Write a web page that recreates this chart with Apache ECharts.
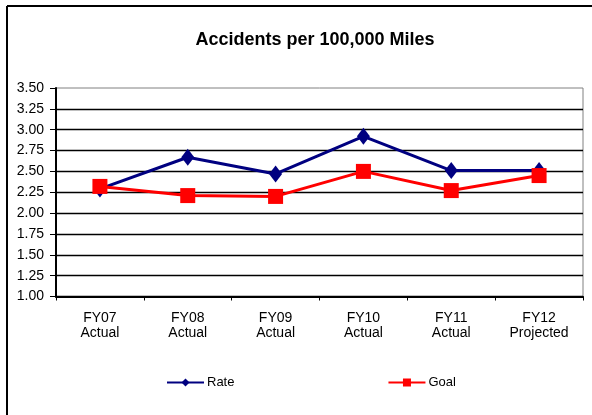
<!DOCTYPE html>
<html>
<head>
<meta charset="utf-8">
<script src="https://cdn.jsdelivr.net/npm/echarts@6/dist/echarts.min.js"></script>
<style>
html,body{margin:0;padding:0;background:#fff;}
#main{width:592px;height:415px;}
</style>
</head>
<body>
<div id="main"></div>
<script>
const categories = ['FY07\nActual', 'FY08\nActual', 'FY09\nActual', 'FY10\nActual', 'FY11\nActual', 'FY12\nProjected'];
const rateValues = [2.29, 2.67, 2.47, 2.92, 2.51, 2.51];
const goalValues = [2.32, 2.21, 2.20, 2.50, 2.27, 2.45];
const yTicks = { min: 1.0, max: 3.5, interval: 0.25 };

const FONT = '"Liberation Sans", Arial, sans-serif';
const chart = echarts.init(document.getElementById('main'), null, { renderer: 'canvas' });

chart.setOption({
  animation: false,
  backgroundColor: '#fff',
  title: {
    text: 'Accidents per 100,000 Miles',
    left: 310,
    top: 26,
    textAlign: 'center',
    textStyle: { fontFamily: FONT, fontWeight: 'bold', fontSize: 18, color: '#000' }
  },
  grid: {
    left: 56, right: 9, top: 88, bottom: 118.5,
    show: true, borderColor: '#808080', borderWidth: 1, backgroundColor: '#fff'
  },
  legend: {
    left: 166, top: 376, padding: 0,
    itemGap: 153,
    itemWidth: 37, itemHeight: 10,
    textStyle: { fontFamily: FONT, fontSize: 13, color: '#000', padding: [0, 0, 0, -2] },
    data: ['Rate', 'Goal']
  },
  xAxis: {
    type: 'category',
    data: categories,
    boundaryGap: true,
    axisLine: { lineStyle: { color: '#000', width: 2 } },
    axisTick: { show: true, length: 4, inside: false, lineStyle: { color: '#000', width: 1 } },
    axisLabel: { fontFamily: FONT, fontSize: 14, color: '#000', lineHeight: 15, margin: 14, interval: 0 }
  },
  yAxis: {
    type: 'value',
    min: yTicks.min, max: yTicks.max, interval: yTicks.interval,
    axisLine: { show: true, lineStyle: { color: '#000', width: 2 } },
    axisTick: { show: true, length: 6, lineStyle: { color: '#000', width: 1 } },
    axisLabel: { fontFamily: FONT, fontSize: 14, color: '#000', margin: 12, formatter: v => v.toFixed(2) },
    splitLine: { show: true, showMaxLine: false, lineStyle: { color: '#000', width: 1.3 } }
  },
  series: [
    {
      name: 'Rate', type: 'line', data: rateValues,
      symbol: 'diamond', symbolSize: [13, 17],
      itemStyle: { color: '#000080' },
      lineStyle: { color: '#000080', width: 3 },
      z: 3
    },
    {
      name: 'Goal', type: 'line', data: goalValues,
      symbol: 'rect', symbolSize: 15,
      itemStyle: { color: '#ff0000' },
      lineStyle: { color: '#ff0000', width: 3 },
      z: 4
    }
  ],
  graphic: [
    { type: 'line', shape: { x1: 7, y1: 6, x2: 592, y2: 6 }, style: { stroke: '#000', lineWidth: 2 }, z: 100 },
    { type: 'line', shape: { x1: 7, y1: 6, x2: 7, y2: 415 }, style: { stroke: '#000', lineWidth: 2 }, z: 100 }
  ]
});
</script>
</body>
</html>
